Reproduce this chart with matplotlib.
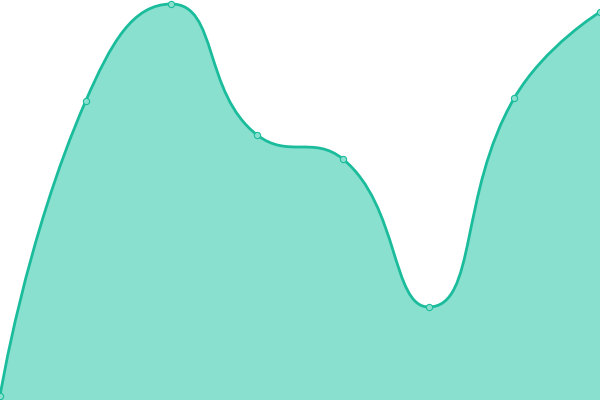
import matplotlib
matplotlib.use("Agg")
import matplotlib.pyplot as plt
from matplotlib.path import Path
from matplotlib.patches import PathPatch

# data
x_vals = [0, 1, 2, 3, 4, 5, 6, 7]
y_vals = [4, 299, 396, 265, 241, 93, 302, 388]

line_color = "#1abc9c"
fill_color = "#8ae0cf"

fig = plt.figure(figsize=(6, 4), dpi=100)
ax = fig.add_axes([0, 0, 1, 1])
ax.set_xlim(0, 7)
ax.set_ylim(0, 400)
ax.axis("off")

# smooth bezier like echarts (smooth = 0.5), computed in pixel space
sx = 600 / 7.0
pts = [(x * sx, y) for x, y in zip(x_vals, y_vals)]
smooth = 0.5
n = len(pts)
cps = []
for i in range(n):
    x, y = pts[i]
    if i == 0 or i == n - 1:
        cps.append(((x, y), (x, y)))
        continue
    prev, nxt = pts[i - 1], pts[i + 1]
    lp = ((x - prev[0]) ** 2 + (y - prev[1]) ** 2) ** 0.5
    ln = ((x - nxt[0]) ** 2 + (y - nxt[1]) ** 2) ** 0.5
    r = ln / (ln + lp)
    vx = nxt[0] - prev[0]
    vy = nxt[1] - prev[1]
    ncx = x + vx * smooth * r
    ncy = y + vy * smooth * r
    ncx = min(ncx, max(nxt[0], x)); ncx = max(ncx, min(nxt[0], x))
    ncy = min(ncy, max(nxt[1], y)); ncy = max(ncy, min(nxt[1], y))
    vx = ncx - x
    vy = ncy - y
    pcx = x - vx * lp / ln
    pcy = y - vy * lp / ln
    pcx = min(pcx, max(prev[0], x)); pcx = max(pcx, min(prev[0], x))
    pcy = min(pcy, max(prev[1], y)); pcy = max(pcy, min(prev[1], y))
    vx = x - pcx
    vy = y - pcy
    ncx = x + vx * ln / lp
    ncy = y + vy * ln / lp
    cps.append(((pcx, pcy), (ncx, ncy)))

verts = [(pts[0][0] / sx, pts[0][1])]
codes = [Path.MOVETO]
for i in range(1, n):
    c1 = cps[i - 1][1]
    c2 = cps[i][0]
    verts += [(c1[0] / sx, c1[1]), (c2[0] / sx, c2[1]), (pts[i][0] / sx, pts[i][1])]
    codes += [Path.CURVE4] * 3

line_path = Path(verts, codes)
fill_path = Path(verts + [(x_vals[-1], 0), (x_vals[0], 0), verts[0]],
                 codes + [Path.LINETO, Path.LINETO, Path.CLOSEPOLY])

ax.add_patch(PathPatch(fill_path, facecolor=fill_color, edgecolor="none"))
ax.add_patch(PathPatch(line_path, facecolor="none", edgecolor=line_color, lw=2.0))
ax.plot(x_vals, y_vals, "o", ms=4.5, mfc=fill_color, mec=line_color, mew=0.8, clip_on=False)

fig.savefig("out.png", dpi=100)
